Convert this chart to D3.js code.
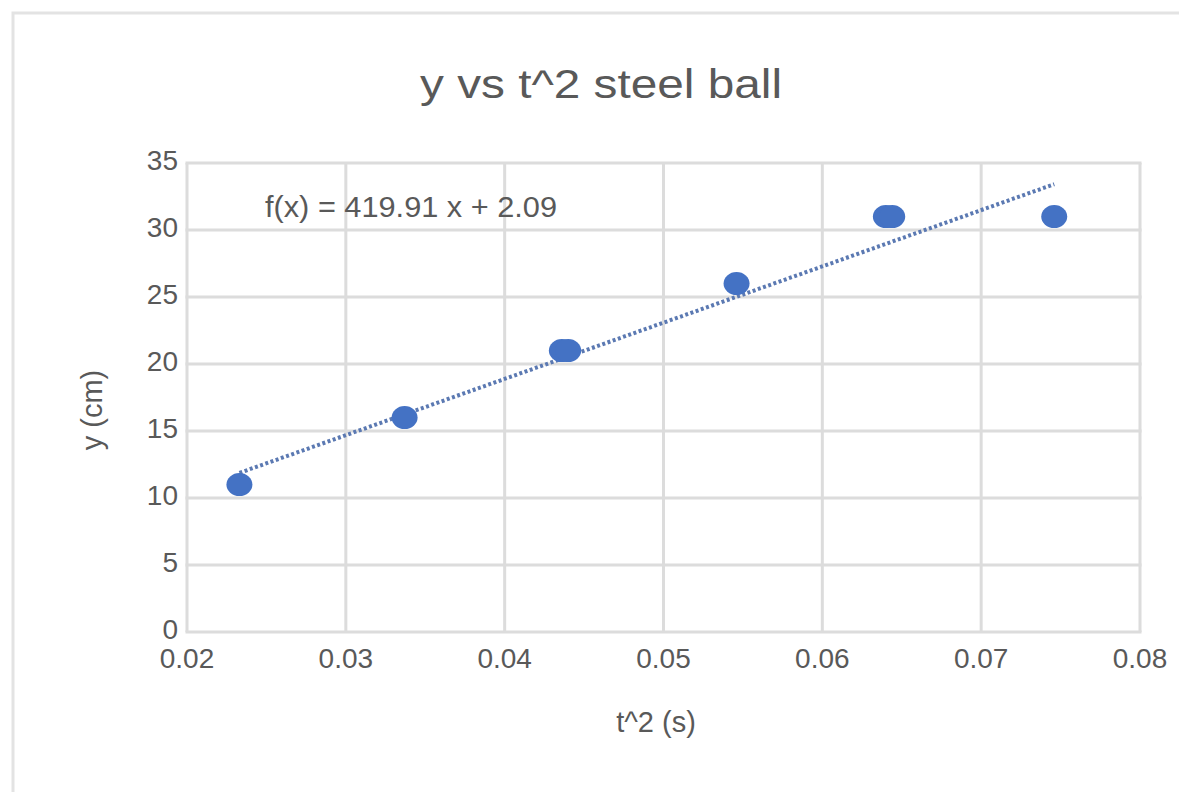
<!DOCTYPE html>
<html>
<head>
<meta charset="utf-8">
<script src="https://cdn.jsdelivr.net/npm/d3@7"></script>
<style>
  body { margin: 0; background: #fff; }
  text { font-family: "Liberation Sans", "DejaVu Sans", sans-serif; fill: #595959; }
</style>
</head>
<body>
<script>
// data
var tSquared = [0.0233, 0.0337, 0.0436, 0.0440, 0.0546, 0.0640, 0.0644, 0.0746];
var yCm      = [11, 16, 21, 21, 26, 31, 31, 31];
var xTicks = [0.02, 0.03, 0.04, 0.05, 0.06, 0.07, 0.08];
var yTicks = [0, 5, 10, 15, 20, 25, 30, 35];
var trendSlope = 419.91, trendIntercept = 2.09;

let width = 1179, height = 792;
let plot = { left: 187, right: 1140, top: 163, bottom: 632 };

let svg = d3.select("body").append("svg")
    .attr("width", width)
    .attr("height", height);

// chart frame (runs off the bottom/right of the picture)
svg.append("rect")
    .attr("x", 13).attr("y", 13)
    .attr("width", width + 20).attr("height", height + 20)
    .attr("fill", "#fff")
    .attr("stroke", "#e3e3e3")
    .attr("stroke-width", 3);

let x = d3.scaleLinear().domain([0.02, 0.08]).range([plot.left, plot.right]);
let y = d3.scaleLinear().domain([0, 35]).range([plot.bottom, plot.top]);

// grid
svg.append("g").selectAll("line")
    .data(xTicks)
    .join("line")
    .attr("x1", d => x(d)).attr("x2", d => x(d))
    .attr("y1", plot.top).attr("y2", plot.bottom)
    .attr("stroke", "#dcdcdc").attr("stroke-width", 3);

svg.append("g").selectAll("line")
    .data(yTicks)
    .join("line")
    .attr("x1", plot.left - 1.5).attr("x2", plot.right + 1.5)
    .attr("y1", d => y(d)).attr("y2", d => y(d))
    .attr("stroke", "#dcdcdc").attr("stroke-width", 3);

// tick labels
svg.append("g").selectAll("text")
    .data(yTicks)
    .join("text")
    .attr("x", plot.left - 9)
    .attr("y", d => y(d) - 3)
    .attr("dy", "0.36em")
    .attr("text-anchor", "end")
    .attr("font-size", 28)
    .text(d => d);

svg.append("g").selectAll("text")
    .data(xTicks)
    .join("text")
    .attr("x", d => x(d))
    .attr("y", plot.bottom + 26)
    .attr("dy", "0.36em")
    .attr("text-anchor", "middle")
    .attr("font-size", 28)
    .text(d => d3.format(".2f")(d));

// trendline
let xExt = d3.extent(tSquared);
let line = d3.line().x(d => x(d)).y(d => y(trendSlope * d + trendIntercept));
svg.append("path")
    .attr("d", line(xExt))
    .attr("fill", "none")
    .attr("stroke", "#5b79b2")
    .attr("stroke-width", 4)
    .attr("stroke-dasharray", "3,2.5");

// points
svg.append("g").selectAll("ellipse")
    .data(tSquared)
    .join("ellipse")
    .attr("cx", d => x(d))
    .attr("cy", (d, i) => y(yCm[i]))
    .attr("rx", 13).attr("ry", 11.5)
    .attr("fill", "#4472c4");

// title & labels
svg.append("text")
    .attr("x", 601).attr("y", 98)
    .attr("text-anchor", "middle")
    .attr("font-size", 40)
    .attr("textLength", 362).attr("lengthAdjust", "spacingAndGlyphs")
    .text("y vs t^2 steel ball");

svg.append("text")
    .attr("x", 265).attr("y", 207)
    .attr("dy", "0.36em")
    .attr("font-size", 29)
    .attr("textLength", 292).attr("lengthAdjust", "spacingAndGlyphs")
    .text("f(x) = " + trendSlope + " x + " + trendIntercept);

svg.append("text")
    .attr("x", 656).attr("y", 722)
    .attr("dy", "0.36em")
    .attr("text-anchor", "middle")
    .attr("font-size", 29)
    .text("t^2 (s)");

svg.append("text")
    .attr("transform", "translate(92,410) rotate(-90)")
    .attr("dy", "0.36em")
    .attr("text-anchor", "middle")
    .attr("font-size", 29)
    .text("y (cm)");
</script>
</body>
</html>
